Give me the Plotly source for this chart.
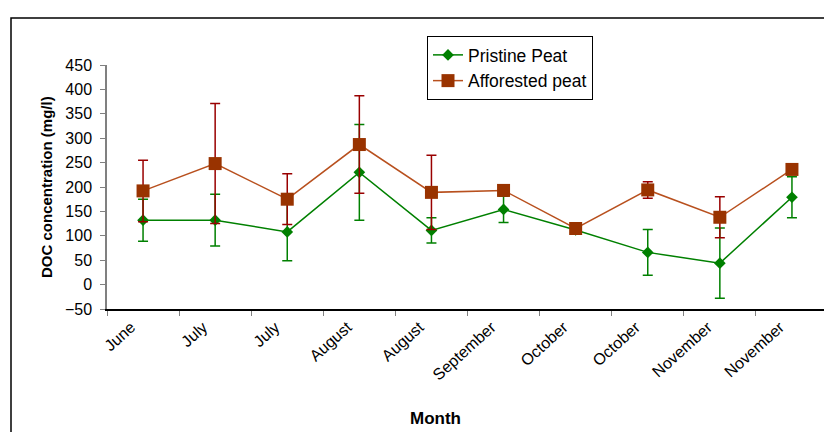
import plotly.graph_objects as go

months = ["June", "July", "July", "August", "August", "September",
          "October", "October", "November", "November"]
pristine = [132, 132, 108, 230, 111, 154, 112, 66, 44, 179]
pristine_err = [43, 53, 59, 98, 26, 27, 3, 47, 72, 42]
afforested = [192, 248, 175, 287, 189, 193, 115, 194, 138, 236]
afforested_err = [63, 123, 52, 100, 76, 0, 0, 17, 42, 0]

x = list(range(len(months)))
FONT = "Liberation Sans, Arial, sans-serif"

# page has an 8px body margin; work in page pixels and convert
OFF = 8
FW, FH = 832 - OFF, 432 - OFF
# plot area in page pixels: x 107..828, y 65..309
L, R, T, B = 107, 828, 65, 309
W, H = R - L, B - T


def px(xp):
    return (xp - L) / W


def py(yp):
    return (B - yp) / H


fig = go.Figure()
fig.add_trace(go.Scatter(
    x=x, y=pristine, name="Pristine Peat", mode="lines+markers",
    line=dict(color="#008000", width=1.5),
    marker=dict(symbol="diamond", size=9, color="#008000"),
    error_y=dict(type="data", array=pristine_err, color="#008000", thickness=1.5, width=5),
))
fig.add_trace(go.Scatter(
    x=x, y=afforested, name="Afforested peat", mode="lines+markers",
    line=dict(color="#B8501E", width=1.5),
    marker=dict(symbol="square", size=13, color="#993300"),
    error_y=dict(type="data", array=afforested_err, color="#990000", thickness=1.5, width=5),
))

fig.update_layout(
    width=FW, height=FH,
    margin=dict(l=L - OFF, r=832 - R, t=T - OFF, b=432 - B),
    paper_bgcolor="white", plot_bgcolor="white",
    font=dict(family=FONT, size=15, color="black"),
    showlegend=True,
    legend=dict(
        x=px(427), y=py(36), xanchor="left", yanchor="top",
        bordercolor="black", borderwidth=1, bgcolor="white",
        font=dict(size=17.5), traceorder="normal",
    ),
    xaxis=dict(
        range=[-0.5, 9.5], tickmode="array", tickvals=x, ticktext=months,
        tickangle=-42, ticks="", showgrid=False, zeroline=False,
        showline=True, linecolor="black", linewidth=1.5,
        tickfont=dict(size=16), automargin=False,
        ticklabelstandoff=1, ticklabelshift=-12,
        minor=dict(ticks="outside", tick0=-0.5, dtick=1, ticklen=5, tickcolor="#808080", showgrid=False),
    ),
    yaxis=dict(
        range=[-50, 450], tickmode="linear", tick0=-50, dtick=50,
        ticks="outside", ticklen=5, tickcolor="#808080",
        showgrid=False, zeroline=False,
        showline=True, linecolor="#808080", linewidth=1.5,
        tickfont=dict(size=16), automargin=False, ticklabelstandoff=5,
    ),
    annotations=[
        dict(text="<b>DOC concentration (mg/l)</b>", textangle=-90,
             xref="paper", yref="paper", x=px(46), y=py(187),
             xanchor="center", yanchor="middle", showarrow=False,
             font=dict(size=15)),
        dict(text="<b>Month</b>",
             xref="paper", yref="paper", x=px(435), y=py(418),
             xanchor="center", yanchor="middle", showarrow=False,
             font=dict(size=17)),
    ],
    shapes=[dict(
        type="rect", xref="paper", yref="paper",
        x0=px(11), x1=px(845), y0=py(18), y1=py(445),
        line=dict(color="black", width=1.5), fillcolor="rgba(0,0,0,0)", layer="below",
    )],
)

fig.write_html("out.html")
